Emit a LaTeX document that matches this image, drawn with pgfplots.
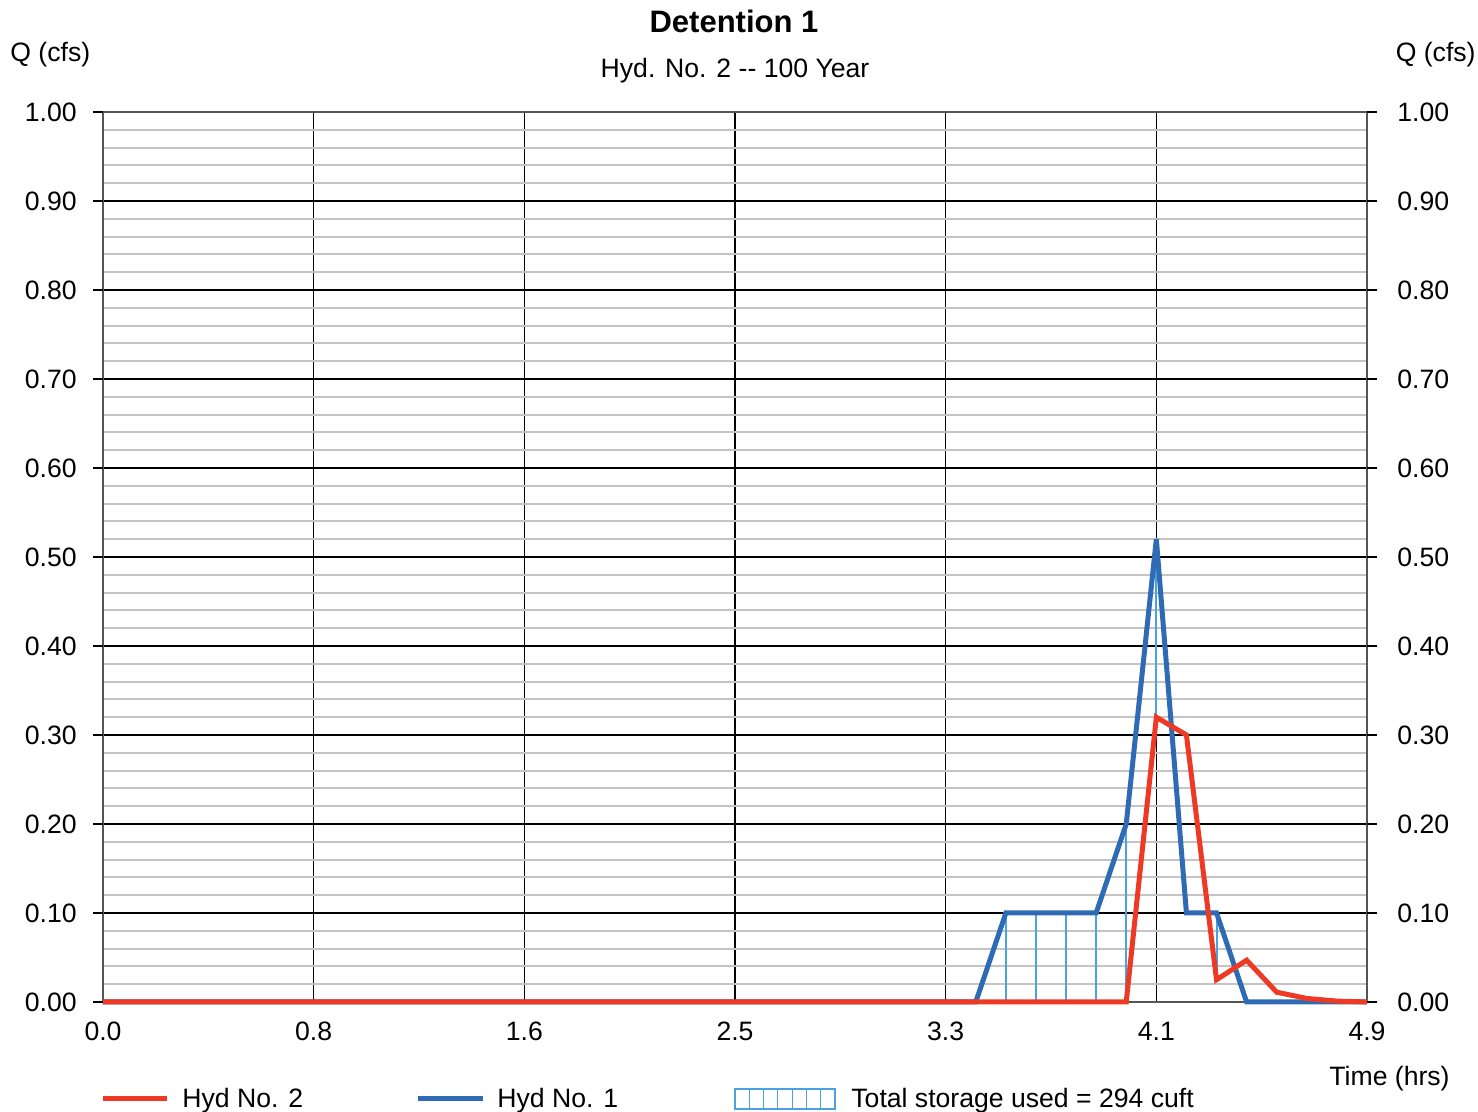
\documentclass[border=0pt]{standalone}
\usepackage{fontspec}
\setmainfont{Liberation Sans}
\usepackage{pgfplots}
\usepackage{pgfplotstable}
\pgfplotsset{compat=1.18}

\definecolor{hydred}{RGB}{238,58,36}
\definecolor{hydblue}{RGB}{47,107,181}
\definecolor{storeblue}{RGB}{74,163,223}
\definecolor{minorgray}{RGB}{196,196,196}
\definecolor{axisgray}{RGB}{85,85,85}

\newcommand{\lbl}{\fontsize{13.3}{16}\selectfont}

% Hydrograph ordinates, 7-minute time step (hours, cfs)
\pgfplotstableread{
t        q
0.000000 0
3.383333 0
3.500000 0.10
3.616667 0.10
3.733333 0.10
3.850000 0.10
3.966667 0.20
4.083333 0.52
4.200000 0.10
4.316667 0.10
4.433333 0
4.900000 0
}\hydone
\pgfplotstableread{
t        q
0.000000 0
3.966667 0
4.083333 0.32
4.200000 0.30
4.316667 0.025
4.433333 0.047
4.550000 0.011
4.666667 0.004
4.783333 0.001
4.900000 0
}\hydtwo

\begin{document}
\begin{tikzpicture}[font=\lbl]
\begin{axis}[
  at={(0,0)}, anchor=south west,
  scale only axis, width=632pt, height=445pt,
  xmin=0, xmax=4.9, ymin=0, ymax=1,
  xtick={0,0.816667,1.633333,2.45,3.266667,4.083333,4.9},
  xticklabels={0.0,0.8,1.6,2.5,3.3,4.1,4.9},
  ytick={0,0.1,0.2,0.3,0.4,0.5,0.6,0.7,0.8,0.9,1.0},
  minor y tick num=4,
  grid=both,
  major grid style={black, line width=0.55pt},
  minor grid style={minorgray, line width=1pt},
  axis line style={axisgray, line width=0.7pt},
  major tick length=0pt, minor tick length=0pt,
  yticklabel style={anchor=east, inner sep=0pt, xshift=-13pt},
  xticklabel style={anchor=north, inner sep=0pt, yshift=-10pt},
  /pgf/number format/assume math mode=true,
  y tick label style={/pgf/number format/.cd, fixed, fixed zerofill, precision=2},
  clip=false,
]
% storage used: vertical hatching between inflow and outflow
\addplot[storeblue, line width=1pt, unbounded coords=jump] coordinates {
  (3.500000,0) (3.500000,0.10) (3.500000,nan)
  (3.616667,0) (3.616667,0.10) (3.616667,nan)
  (3.733333,0) (3.733333,0.10) (3.733333,nan)
  (3.850000,0) (3.850000,0.10) (3.850000,nan)
  (3.966667,0) (3.966667,0.20) (3.966667,nan)
  (4.083333,0.32) (4.083333,0.52) (4.083333,nan)
  (4.316667,0.025) (4.316667,0.10)
};
\addplot[hydblue, line width=2.5pt, line join=miter] table[x=t, y=q] {\hydone};
\addplot[hydred, line width=2.5pt, line join=miter] table[x=t, y=q] {\hydtwo};
\end{axis}
% outer y ticks and right-hand tick labels
\begin{axis}[
  at={(0,0)}, anchor=south west,
  scale only axis, width=632pt, height=445pt,
  xmin=0, xmax=4.9, ymin=0, ymax=1,
  xtick=\empty,
  ytick={0,0.1,0.2,0.3,0.4,0.5,0.6,0.7,0.8,0.9,1.0},
  ytick pos=both, tick align=outside, major tick length=5pt,
  major tick style={black, line width=0.55pt},
  axis line style={draw=none},
  yticklabel pos=right,
  yticklabel style={anchor=west, inner sep=0pt, xshift=10pt},
  /pgf/number format/assume math mode=true,
  y tick label style={/pgf/number format/.cd, fixed, fixed zerofill, precision=2},
]
\end{axis}

\node[anchor=base, font=\fontsize{15.5}{18}\selectfont\bfseries] at (315.5pt,484.5pt) {Detention 1};
\node[anchor=base] at (316pt,462.25pt) {Hyd. No. 2 -{}- 100 Year};
\node[anchor=base west, inner sep=0pt] at (-46.5pt,470.25pt) {Q (cfs)};
\node[anchor=base east, inner sep=0pt] at (686.5pt,470.25pt) {Q (cfs)};
\node[anchor=base east, inner sep=0pt] at (673.5pt,-42pt) {Time (hrs)};

% legend
\draw[hydred, line width=2.5pt] (0pt,-48.5pt) -- (32pt,-48.5pt);
\node[anchor=base west, inner sep=0pt] at (39.5pt,-53pt) {Hyd No. 2};
\draw[hydblue, line width=2.5pt] (157.5pt,-48.5pt) -- (190pt,-48.5pt);
\node[anchor=base west, inner sep=0pt] at (197pt,-53pt) {Hyd No. 1};
\draw[storeblue, line width=0.6pt] (316pt,-53.5pt) rectangle (366pt,-43.5pt);
\foreach \k in {1,...,6} {
  \draw[storeblue, line width=0.5pt] ({316pt+\k*7.1429pt},-53.5pt) -- ({316pt+\k*7.1429pt},-43.5pt);
}
\node[anchor=base west, inner sep=0pt] at (374pt,-53pt) {Total storage used = 294 cuft};

\pgfresetboundingbox
\path[use as bounding box] (-51.5pt,-55pt) rectangle (687.5pt,501pt);
\end{tikzpicture}
\end{document}
